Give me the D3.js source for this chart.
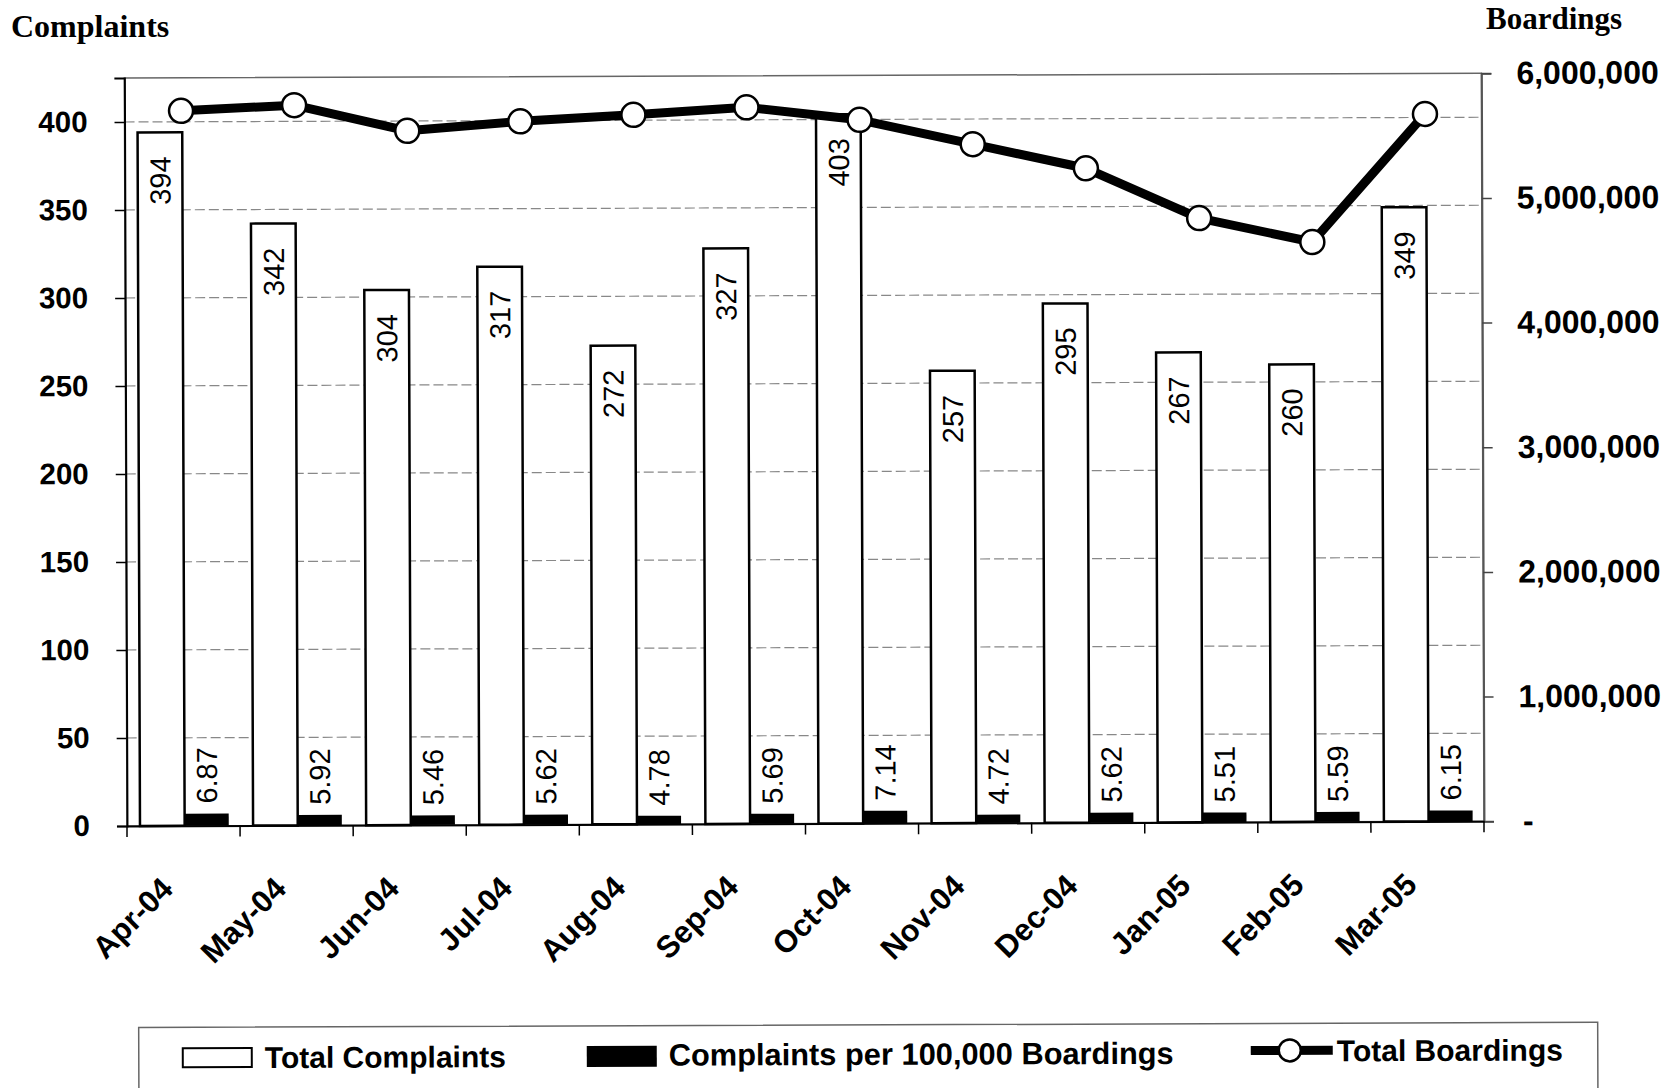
<!DOCTYPE html>
<html>
<head>
<meta charset="utf-8">
<script src="https://cdn.jsdelivr.net/npm/d3@7"></script>
<style>
  html, body { margin: 0; padding: 0; background: #fff; }
  svg { display: block; }
  .sans { font-family: "Liberation Sans", Arial, sans-serif; }
  .serif { font-family: "Liberation Serif", "Times New Roman", serif; }
</style>
</head>
<body>
<svg id="chart" width="1677" height="1088"></svg>
<script>
// Monthly complaint statistics, April 2004 – March 2005
const months = ["Apr-04", "May-04", "Jun-04", "Jul-04", "Aug-04", "Sep-04",
                "Oct-04", "Nov-04", "Dec-04", "Jan-05", "Feb-05", "Mar-05"];
const totalComplaints = [394, 342, 304, 317, 272, 327, 403, 257, 295, 267, 260, 349];
const complaintsPer100k = [6.87, 5.92, 5.46, 5.62, 4.78, 5.69, 7.14, 4.72, 5.62, 5.51, 5.59, 6.15];
const totalBoardings = [5735000, 5777000, 5568000, 5641000, 5690000, 5747000,
                        5644000, 5445000, 5249000, 4846000, 4651000, 5675000];
const leftTicks = [0, 50, 100, 150, 200, 250, 300, 350, 400];
const rightTicks = [0, 1000000, 2000000, 3000000, 4000000, 5000000, 6000000];
const legendLabels = ["Total Complaints", "Complaints per 100,000 Boardings", "Total Boardings"];

const svg = d3.select("#chart");
const root = svg.append("g").attr("transform", "rotate(-0.2 838 544)");

const plot = { left: 126, right: 1483, top: 75.5, bottom: 823.5 };

const x = d3.scaleBand().domain(months).range([plot.left, plot.right]).padding(0);
const yL = d3.scaleLinear().domain([0, 425]).range([plot.bottom, plot.top]);
const yR = d3.scaleLinear().domain([0, 6000000]).range([plot.bottom, plot.top]);
const bw = x.bandwidth();

// plot area frame
root.append("rect")
  .attr("x", plot.left).attr("y", plot.top)
  .attr("width", plot.right - plot.left).attr("height", plot.bottom - plot.top)
  .attr("fill", "none").attr("stroke", "#666").attr("stroke-width", 1.5);

// horizontal gridlines
root.append("g").selectAll("line")
  .data(leftTicks.filter(d => d > 0))
  .join("line")
  .attr("x1", plot.left).attr("x2", plot.right)
  .attr("y1", d => yL(d)).attr("y2", d => yL(d))
  .attr("stroke", "#888").attr("stroke-width", 1.2)
  .attr("stroke-dasharray", "10,4");

// total complaints (white bars)
root.append("g").selectAll("rect")
  .data(months.map((m, i) => ({ m, v: totalComplaints[i] })))
  .join("rect")
  .attr("x", d => x(d.m) + bw * 0.115)
  .attr("width", bw * 0.395)
  .attr("y", d => yL(d.v))
  .attr("height", d => yL(0) - yL(d.v))
  .attr("fill", "#fff").attr("stroke", "#000").attr("stroke-width", 2.5);

// complaints per 100,000 boardings (black bars)
root.append("g").selectAll("rect")
  .data(months.map((m, i) => ({ m, v: complaintsPer100k[i] })))
  .join("rect")
  .attr("x", d => x(d.m) + bw * 0.51)
  .attr("width", bw * 0.39)
  .attr("y", d => yL(d.v))
  .attr("height", d => yL(0) - yL(d.v))
  .attr("fill", "#000");

// value labels inside the white bars
root.append("g").attr("class", "sans").selectAll("text")
  .data(months.map((m, i) => ({ m, v: totalComplaints[i] })))
  .join("text")
  .attr("transform", d => `translate(${x(d.m) + bw * 0.3125},${yL(d.v) + 24}) rotate(-90)`)
  .attr("text-anchor", "end").attr("dy", "0.36em")
  .attr("font-size", 29).attr("fill", "#000")
  .text(d => d.v);

// value labels above the black bars
root.append("g").attr("class", "sans").selectAll("text")
  .data(months.map((m, i) => ({ m, v: complaintsPer100k[i] })))
  .join("text")
  .attr("transform", d => `translate(${x(d.m) + bw * 0.705},${yL(d.v) - 10}) rotate(-90)`)
  .attr("text-anchor", "start").attr("dy", "0.36em")
  .attr("font-size", 29).attr("fill", "#000")
  .text(d => d3.format(".2f")(d.v));

// total boardings line with open circle markers
const pts = months.map((m, i) => ({ m, v: totalBoardings[i] }));
root.append("path")
  .datum(pts)
  .attr("d", d3.line().x(d => x(d.m) + bw / 2).y(d => yR(d.v)))
  .attr("fill", "none").attr("stroke", "#000").attr("stroke-width", 9)
  .attr("stroke-linejoin", "round");
root.append("g").selectAll("circle")
  .data(pts)
  .join("circle")
  .attr("cx", d => x(d.m) + bw / 2).attr("cy", d => yR(d.v))
  .attr("r", 12).attr("fill", "#fff").attr("stroke", "#000").attr("stroke-width", 2.5);

// left axis
const axL = root.append("g").attr("class", "sans")
  .attr("transform", `translate(${plot.left},0)`)
  .call(d3.axisLeft(yL).tickValues(leftTicks).tickSize(10).tickPadding(27)
    .tickFormat(d3.format("d")));
axL.select(".domain").attr("stroke", "#000").attr("stroke-width", 2);
axL.selectAll(".tick line").attr("stroke", "#000").attr("stroke-width", 1.5);
axL.selectAll(".tick text").attr("font-size", 29.5).attr("font-weight", "bold").attr("fill", "#000");

// right axis
const axR = root.append("g").attr("class", "sans")
  .attr("transform", `translate(${plot.right},0)`)
  .call(d3.axisRight(yR).tickValues(rightTicks).tickSize(10).tickPadding(25)
    .tickFormat(d => d === 0 ? "-" : d3.format(",")(d)));
axR.select(".domain").attr("stroke", "#555").attr("stroke-width", 2);
axR.selectAll(".tick line").attr("stroke", "#444").attr("stroke-width", 1.5);
axR.selectAll(".tick text").attr("font-size", 32).attr("font-weight", "bold").attr("fill", "#000");
axR.selectAll(".tick text").filter(d => d === 0).attr("dx", 4);

// category axis
const axB = root.append("g").attr("class", "sans")
  .attr("transform", `translate(0,${plot.bottom})`)
  .call(d3.axisBottom(x).tickSize(0).tickSizeOuter(0).tickFormat(""));
axB.select(".domain").attr("stroke", "#000").attr("stroke-width", 2);
axB.selectAll(".boundary")
  .data(months.map(m => x(m)).concat([plot.right]))
  .join("line").attr("class", "boundary")
  .attr("x1", d => d).attr("x2", d => d).attr("y1", 0).attr("y2", 11)
  .attr("stroke", "#000").attr("stroke-width", 1.5);
axB.selectAll(".cat")
  .data(months)
  .join("text").attr("class", "cat")
  .attr("transform", d => `translate(${x(d) + bw / 2 - 9},${65}) rotate(-45)`)
  .attr("text-anchor", "end")
  .attr("font-size", 31).attr("font-weight", "bold").attr("fill", "#000")
  .text(d => d);

// axis titles
svg.append("text").attr("class", "serif")
  .attr("x", 11).attr("y", 37)
  .attr("font-size", 32).attr("font-weight", "bold")
  .text("Complaints");
svg.append("text").attr("class", "serif")
  .attr("x", 1486).attr("y", 29)
  .attr("font-size", 31).attr("font-weight", "bold")
  .text("Boardings");

// legend
const lg = root.append("g").attr("class", "sans");
lg.append("rect")
  .attr("x", 137).attr("y", 1025).attr("width", 1459).attr("height", 90)
  .attr("fill", "#fff").attr("stroke", "#666").attr("stroke-width", 1.5);
lg.append("rect")
  .attr("x", 181).attr("y", 1046).attr("width", 69).attr("height", 19)
  .attr("fill", "#fff").attr("stroke", "#000").attr("stroke-width", 2);
lg.append("rect")
  .attr("x", 585).attr("y", 1045).attr("width", 70).attr("height", 21)
  .attr("fill", "#000");
lg.append("line")
  .attr("x1", 1249).attr("x2", 1331).attr("y1", 1052).attr("y2", 1052)
  .attr("stroke", "#000").attr("stroke-width", 9);
lg.append("circle")
  .attr("cx", 1288).attr("cy", 1052).attr("r", 11)
  .attr("fill", "#fff").attr("stroke", "#000").attr("stroke-width", 2.5);
lg.selectAll(".lt")
  .data(legendLabels)
  .join("text").attr("class", "lt")
  .attr("x", (d, i) => [263, 667, 1335][i])
  .attr("y", (d, i) => [1066, 1065, 1063][i])
  .attr("font-size", (d, i) => [30, 30.8, 30][i])
  .attr("font-weight", "bold").attr("fill", "#000")
  .text(d => d);
</script>
</body>
</html>
